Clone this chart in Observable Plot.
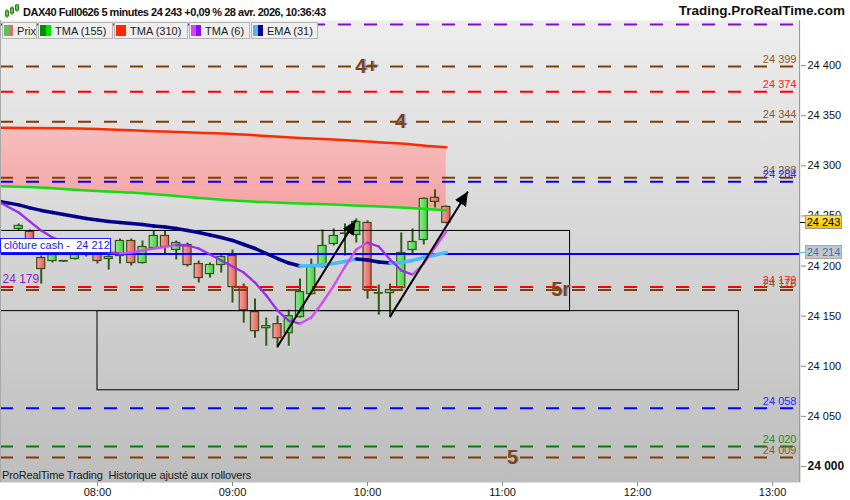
<!DOCTYPE html>
<html>
<head>
<meta charset="utf-8">
<script src="https://cdn.jsdelivr.net/npm/d3@7"></script>
<script src="https://cdn.jsdelivr.net/npm/@observablehq/plot@0.6"></script>
<style>
  html,body{margin:0;padding:0;background:#fff;}
  #wrap{position:relative;width:850px;height:500px;overflow:hidden;font-family:"Liberation Sans",Arial,Helvetica,sans-serif;color:#111;}
  #wrap > svg{position:absolute;left:0;top:0;}
  .hdr{position:absolute;top:5px;font-weight:bold;font-size:11px;white-space:nowrap;line-height:14px;color:#111;}
  .legend{position:absolute;top:22px;left:2px;display:flex;gap:1px;}
  .cell{box-sizing:border-box;height:17px;border:1px solid #b4b4b4;background:#efefef;display:flex;align-items:center;padding-left:1px;font-size:11px;color:#222;white-space:nowrap;}
  .ico{width:10px;height:11px;display:inline-flex;margin-right:4px;}
  .ico span{flex:1;}
  .badge{position:absolute;left:805px;width:37px;height:14px;box-sizing:border-box;font-size:11px;line-height:12px;text-align:center;border:1px solid #9a9a9a;}
  .tick{position:absolute;left:800px;width:5px;height:1px;}
</style>
</head>
<body>
<div id="wrap"></div>
<script>
// ---------- data ----------
const candleTimes = ["07:25","07:30","07:35","07:40","07:45","07:50","07:55","08:00","08:05","08:10","08:15","08:20","08:25","08:30","08:35","08:40","08:45","08:50","08:55","09:00","09:05","09:10","09:15","09:20","09:25","09:30","09:35","09:40","09:45","09:50","09:55","10:00","10:05","10:10","10:15","10:20","10:25","10:30","10:35"];
const candleOpen  = [24237,24234,24208,24205,24204.5,24207,24214,24212,24207,24210,24225,24203,24218,24230,24216,24221,24202,24192,24201,24210,24178,24154,24138,24142,24133,24149,24172,24199,24222,24232,24231,24243,24172.5,24173,24178,24216,24226,24268,24259];
const candleHigh  = [24242,24236,24210,24214,24205.5,24216,24216,24215,24211,24227,24227,24225,24235,24235,24225,24223,24205,24203,24212,24216,24182,24167,24148,24150,24156,24187,24207,24236,24237,24242,24247,24245,24181,24182,24233,24237,24268,24276,24260];
const candleLow   = [24235,24213,24182,24203,24203.5,24206,24209,24202,24196,24202,24200,24202,24217,24212,24206,24199,24183,24188,24193,24163,24143,24128,24120,24118,24120,24148,24171,24198,24220,24210,24223,24167,24151,24150,24177,24212,24221,24258,24242];
const candleClose = [24240,24215,24197,24211,24205,24213,24211,24205,24209,24225,24203,24219,24230,24219,24223,24201,24188,24201,24209,24179,24156,24135,24140,24128,24150,24174,24199,24220,24230,24232.5,24244,24176,24173,24176,24213,24224,24267,24264,24243];

const lineTimes = ["07:15","07:20"].concat(candleTimes);
const ema31 = [24265,24263,24261,24258,24255.5,24253.5,24251.5,24249.5,24247.5,24246,24244.5,24243.5,24242.5,24241.5,24240,24239,24237.5,24235.5,24233.5,24231,24228.5,24225.5,24221.5,24217.5,24212.5,24207.5,24203,24200,24200.3,24201,24202.5,24204.5,24207,24206,24204,24203,24203.5,24205.5,24208.5,24211,24213.5];
const tma6 = [24265.3,24259.4,24253.4,24244.4,24235.4,24228.4,24224.4,24221.4,24218.5,24215.5,24213.5,24212.5,24213.5,24215.5,24217.5,24219,24221,24220.5,24217.5,24211.5,24205.5,24199.5,24193.5,24183.5,24170.6,24155.6,24145.6,24142.6,24148.6,24163.6,24180.5,24199.5,24216.5,24223.4,24219.5,24206.5,24195.5,24191.5,24202.5,24218.5,24234.4];

const tmaTimes = ["07:15","07:30","07:45","08:00","08:15","08:30","08:45","09:00","09:15","09:30","09:45","10:00","10:15","10:30","10:35"];
const tma155 = [24279.8,24278.8,24276.8,24274.8,24273.3,24270.8,24267.8,24265.3,24263.8,24262.3,24261.3,24259.8,24258.4,24256.4,24255.4];
const tma310 = [24337.9,24337.7,24337.5,24336.7,24335.4,24334.2,24333,24331.7,24329.7,24327.7,24326.2,24324.2,24322.2,24319.2,24318.5];

const levelValues = [24441,24399,24374,24344,24288,24284,24179,24176,24058,24020,24009];
const levelColors = ["#7c10c4","#7f3f00","#ff0000","#7f3f00","#7f3f00","#0000ff","#ff0000","#7f3f00","#0000ff","#008000","#7f3f00"];
const levelTextColors = ["#7c10c4","#8b5a2b","#ff1a1a","#8b5a2b","#8b5a2b","#2a2aff","#ff1a1a","#8b5a2b","#2a2aff","#2a8a2a","#8b5a2b"];
const levelLabels = ["","24 399","24 374","24 344","24 288","24 284","24 179","24 176","24 058","24 020","24 009"];

const cashClose = 24212;
const cashLabel = "clôture cash -  24 212";
const leftLabelValue = 24179;
const leftLabel = "24 179";

const boxStart = ["07:00","08:00"];
const boxEnd = ["11:30","12:45"];
const boxTop = [24235,24155];
const boxBottom = [24155,24076];

const arrowFromTime = ["09:20","10:09.9"];
const arrowFromValue = [24119.7,24149];
const arrowToTime = ["09:54.7","10:44.6"];
const arrowToValue = [24245.4,24274.3];

const waveText = ["4+","4","5r","5"];
const waveTime = ["09:59.6","10:14.7","11:25.8","11:04.4"];
const waveValue = [24399,24344,24176,24009];

const xTickTimes = ["08:00","09:00","10:00","11:00","12:00","13:00"];
const yTicks = [24000,24050,24100,24150,24200,24250,24300,24350,24400];

const lastPrice = 24243, lastPriceLabel = "24 243";
const emaLast = 24214, emaLastLabel = "24 214";

const seriesNames = ["Prix","TMA (155)","TMA (310)","TMA (6)","EMA (31)"];
const seriesColorsA = ["#5cc05c","#008a00","#ff2800","#e040f5","#48b8ff"];
const seriesColorsB = ["#e56a6a","#00e000","#ff2800","#8a10ff","#00008a"];

const headerText = "DAX40 Full0626 5 minutes 24 243 +0,09 % 28 avr. 2026, 10:36:43";
const siteText = "Trading.ProRealTime.com";
const captionText = "ProRealTime Trading  Historique ajusté aux rollovers";

// ---------- build ----------
const parseT = s => { const [h, m] = s.split(":"); return +h * 60 + parseFloat(m); };
const fmt = v => { const s = String(Math.round(v)); return s.slice(0, -3) + " " + s.slice(-3); };

const candles = candleTimes.map((t, i) => ({t: parseT(t), open: candleOpen[i], high: candleHigh[i], low: candleLow[i], close: candleClose[i]}));
const halfW = 1.8;
const tma = tmaTimes.map((t, i) => ({t: parseT(t), v155: tma155[i], v310: tma310[i]}));
function segments(times, vals, up, down) {
  const out = [];
  for (let i = 1; i < vals.length; i++) out.push({t1: parseT(times[i-1]), v1: vals[i-1], t2: parseT(times[i]), v2: vals[i], c: vals[i] >= vals[i-1] ? up : down});
  return out;
}
const emaSegs = segments(lineTimes, ema31, "#4ab9ff", "#00008a");
const tma6Segs = segments(lineTimes, tma6, "#d04cf0", "#9a2cf2");
const levels = levelValues.map((v, i) => ({v, c: levelColors[i], tc: levelTextColors[i], label: levelLabels[i]}));
const boxes = boxStart.map((s, i) => ({t1: parseT(s), t2: parseT(boxEnd[i]), v1: boxTop[i], v2: boxBottom[i]}));
const arrows = arrowFromTime.map((s, i) => ({t1: parseT(s), v1: arrowFromValue[i], t2: parseT(arrowToTime[i]), v2: arrowToValue[i]}));
const waves = waveText.map((s, i) => ({s, t: parseT(waveTime[i]), v: waveValue[i]}));
const xTicks = xTickTimes.map(parseT);

const font = '"Liberation Sans", Arial, sans-serif';
const chart = Plot.plot({
  width: 850, height: 500,
  marginTop: 20, marginBottom: 18, marginLeft: 0, marginRight: 50,
  style: {fontFamily: font, fontSize: "11px", background: "transparent", color: "#111", overflow: "visible"},
  x: {domain: [parseT("07:16.9"), parseT("13:12.4")]},
  y: {domain: [23984, 24445]},
  color: {type: "identity"},
  marks: [
    Plot.frame({fill: "url(#bgGrad)", stroke: "none"}),
    Plot.areaY(tma, {x: "t", y1: "v310", y2: "v155", fill: "url(#pinkGrad)", curve: "monotone-x", clip: true}),
    Plot.ruleX(candles, {x: "t", y1: "low", y2: "high", stroke: "#2e5a15", strokeWidth: 2}),
    Plot.rect(candles, {filter: d => d.close >= d.open, x1: d => d.t - halfW, x2: d => d.t + halfW, y1: "open", y2: "close", fill: "url(#gGreen)", stroke: "#2e5a15", strokeWidth: 1.2}),
    Plot.rect(candles, {filter: d => d.close < d.open, x1: d => d.t - halfW, x2: d => d.t + halfW, y1: "open", y2: "close", fill: "url(#gRed)", stroke: "#3d4a16", strokeWidth: 1.2}),
    Plot.ruleY(levels, {y: "v", stroke: "c", strokeWidth: 2, strokeDasharray: "13,13"}),
    Plot.rect(boxes, {x1: "t1", x2: "t2", y1: "v1", y2: "v2", fill: "none", stroke: "#000", strokeWidth: 1, clip: true}),
    Plot.ruleY([cashClose], {stroke: "#0000ff", strokeWidth: 2}),
    Plot.line(tma, {x: "t", y: "v310", stroke: "#ff2a00", strokeWidth: 2.5, curve: "monotone-x", clip: true}),
    Plot.line(tma, {x: "t", y: "v155", stroke: "#10dd10", strokeWidth: 2.5, curve: "monotone-x", clip: true}),
    Plot.link(emaSegs, {x1: "t1", y1: "v1", x2: "t2", y2: "v2", stroke: "c", strokeWidth: 3.5, strokeLinecap: "round", clip: true}),
    Plot.link(tma6Segs, {x1: "t1", y1: "v1", x2: "t2", y2: "v2", stroke: "c", strokeWidth: 2.3, strokeLinecap: "round", clip: true}),
    Plot.link(arrows, {x1: "t1", y1: "v1", x2: "t2", y2: "v2", stroke: "#000", strokeWidth: 2, className: "arrowlink"}),
    Plot.text(levels.filter(d => d.label), {y: "v", text: "label", frameAnchor: "right", textAnchor: "end", dx: -4, dy: -7, fill: "tc", fontSize: 11}),
    Plot.text([leftLabelValue], {y: d => d, text: () => leftLabel, frameAnchor: "left", textAnchor: "start", dx: 2, dy: -8, fill: "#8a1fd0", fontSize: 12}),
    Plot.text(waves, {x: "t", y: "v", text: "s", fontSize: 20, fontWeight: "bold", fill: "#8f8fe0", dx: 1.2, fillOpacity: 0.8}),
    Plot.text(waves, {x: "t", y: "v", text: "s", fontSize: 20, fontWeight: "bold", fill: "#7a4511"}),
    Plot.axisX({ticks: xTicks, tickFormat: (d, i) => xTickTimes[i], tickSize: 4, tickPadding: 2, fontSize: 11}),
    Plot.axisY({anchor: "right", ticks: yTicks, tickFormat: fmt, tickSize: 5, tickPadding: 2, fontSize: 11})
  ]
});

// defs: gradients + arrowhead
const defs = document.createElementNS("http://www.w3.org/2000/svg", "defs");
defs.innerHTML = `
 <linearGradient id="bgGrad" x1="0" y1="0" x2="0" y2="1"><stop offset="0" stop-color="#ededed"/><stop offset="1" stop-color="#bdbdbd"/></linearGradient>
 <linearGradient id="pinkGrad" x1="0" y1="0" x2="0" y2="1"><stop offset="0" stop-color="#f4bebe"/><stop offset="1" stop-color="#f6a2a2"/></linearGradient>
 <linearGradient id="gGreen" x1="0" y1="0" x2="1" y2="0"><stop offset="0" stop-color="#8cef8c"/><stop offset="1" stop-color="#42d042"/></linearGradient>
 <linearGradient id="gRed" x1="0" y1="0" x2="1" y2="0"><stop offset="0" stop-color="#f6a3a1"/><stop offset="1" stop-color="#e45e5c"/></linearGradient>
 <marker id="triHead" viewBox="-12 -7 14 14" refX="2" refY="0" markerWidth="14" markerHeight="14" markerUnits="userSpaceOnUse" orient="auto"><path d="M-12,-6.5L2,0L-12,6.5Z" fill="#000"/></marker>`;
chart.prepend(defs);
chart.querySelectorAll(".arrowlink path").forEach(p => p.setAttribute("marker-end", "url(#triHead)"));
chart.querySelectorAll('[aria-label="y-axis tick"], [aria-label="x-axis tick"]').forEach(g => g.setAttribute("stroke", "#8a8a8a"));
chart.querySelectorAll('[aria-label="y-axis tick label"] text').forEach(t => {
  if (t.textContent === "24 000") { t.setAttribute("font-weight", "bold"); t.setAttribute("font-size", "12"); }
});

const wrap = document.getElementById("wrap");
wrap.appendChild(chart);
const ys = chart.scale("y");
const add = html => wrap.insertAdjacentHTML("beforeend", html);

// borders
add(`<div style="position:absolute;left:0;top:20px;width:1px;height:462px;background:#a8a8a8"></div>`);
add(`<div style="position:absolute;left:799px;top:20px;width:1px;height:462px;background:#9a9a9a"></div>`);

// header
add(`<svg style="position:absolute;left:4px;top:3px" width="16" height="16"><g stroke="#2e7a10" fill="#5cd05c">
<line x1="3" y1="6" x2="3" y2="15"/><rect x="1.5" y="8" width="3" height="5"/>
<line x1="8" y1="3" x2="8" y2="12"/><rect x="6.5" y="5" width="3" height="5"/>
<line x1="13" y1="1" x2="13" y2="9"/><rect x="11.5" y="2" width="3" height="5"/></g></svg>`);
add(`<div class="hdr" style="left:23px;letter-spacing:-0.48px">${headerText}</div>`);
add(`<div class="hdr" style="right:5px;font-size:13.5px;top:4px">${siteText}</div>`);

// legend
const widths = [35, 75, 74, 61, 67];
add(`<div class="legend">${seriesNames.map((n, i) => `<div class="cell" style="width:${widths[i]}px"><span class="ico" style="${i===1?'width:11px':''}"><span style="background:${seriesColorsA[i]}"></span><span style="background:${seriesColorsB[i]}"></span></span>${n}</div>`).join("")}</div>`);

// cash label
const yc = ys.apply(cashClose);
add(`<div style="position:absolute;left:0;top:${yc-15.5}px;width:111px;height:15px;box-sizing:border-box;border:1px solid #1e1eff;background:#fff;color:#1a1ae0;font-size:11px;line-height:13px;padding-left:3px;white-space:pre">${cashLabel}</div>`);

// right badges
const yp = ys.apply(lastPrice);
add(`<div class="tick" style="top:${yp}px;background:#000"></div>`);
add(`<div class="badge" style="top:${yp-7}px;background:linear-gradient(#ffe24a,#f2c200);color:#000">${lastPriceLabel}</div>`);
const ye = ys.apply(emaLast);
add(`<div class="tick" style="top:${ye}px;background:#5ab4f0"></div>`);
add(`<div class="badge" style="top:${ye-7}px;background:#c6c6c6;color:#2a7cc0;border-color:#a8a8a8">${emaLastLabel}</div>`);

// caption
add(`<div style="position:absolute;left:2px;top:469px;font-size:11px;line-height:13px;color:#1a1a1a;white-space:pre;letter-spacing:-0.15px">${captionText}</div>`);
</script>
</body>
</html>
